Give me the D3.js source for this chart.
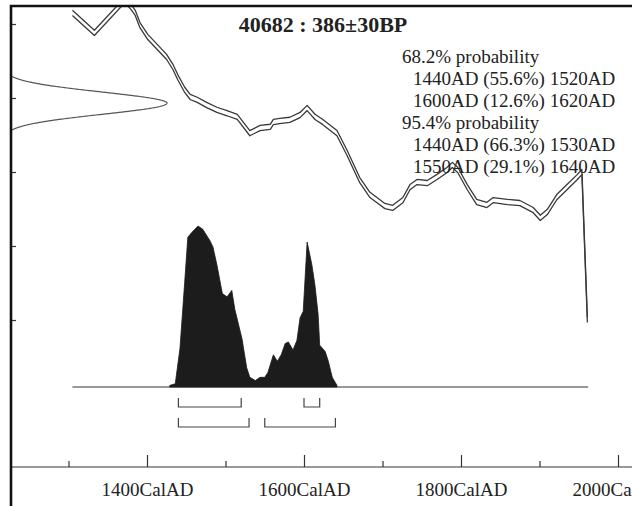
<!DOCTYPE html>
<html>
<head>
<meta charset="UTF-8" />
<title>40682 : 386±30BP</title>
<script src="https://d3js.org/d3.v7.min.js"></script>
<style>
  body { margin: 0; background: #fff; }
  svg { display: block; font-family: "Liberation Serif", "Times New Roman", serif; }
</style>
</head>
<body>
<svg id="chart" width="632" height="506"></svg>
<script>
// ---- data ----
const titleText = '40682 : 386±30BP';
const measBP = 386, measSd = 30;

// calibration curve (cal AD, 14C BP)
const calYears = [1305, 1333, 1372, 1380, 1385, 1391, 1401, 1413, 1425, 1433, 1439, 1448, 1455, 1464, 1476, 1489, 1502, 1515,
  1531, 1544, 1557, 1561, 1569, 1582, 1595, 1604, 1614, 1624, 1642, 1655, 1671, 1684, 1693, 1703, 1713, 1726, 1735, 1744,
  1757, 1769, 1782, 1789, 1796, 1808, 1820, 1833, 1841, 1859, 1875, 1892, 1901, 1910, 1922, 1935, 1948, 1954, 1961];
const calBP = [630, 576, 665, 645, 630, 597, 565, 538, 511, 484, 457, 422, 403, 395, 381, 368, 359, 349,
  305, 319, 322, 335, 338, 341, 354, 373, 349, 335, 305, 251, 178, 138, 124, 108, 103, 124, 159, 173,
  170, 186, 205, 219, 205, 159, 119, 111, 124, 119, 116, 97, 76, 92, 132, 159, 186, 200, -200];
const curveSd = 7;

// calibrated probability (relative)
const distYears = [1429, 1436, 1442, 1448, 1452, 1457, 1465, 1471, 1480, 1484, 1489, 1496, 1502, 1508, 1512, 1521, 1527, 1531,
  1538, 1544, 1550, 1554, 1561, 1566, 1571, 1576, 1580, 1586, 1591, 1595, 1599, 1604, 1610, 1614, 1618, 1620, 1627, 1631, 1636, 1642];
const distProb = [0.01, 0.02, 0.24, 0.65, 0.93, 0.96, 1.0, 0.98, 0.91, 0.87, 0.76, 0.58, 0.56, 0.60, 0.48, 0.30, 0.12, 0.06,
  0.04, 0.06, 0.06, 0.09, 0.20, 0.16, 0.20, 0.27, 0.28, 0.23, 0.29, 0.43, 0.47, 0.90, 0.76, 0.63, 0.45, 0.26, 0.22, 0.16, 0.06, 0.01];
const distRange = [1305, 1962];

const ranges68 = [[1440, 1520], [1600, 1620]];
const ranges95 = [[1440, 1530], [1550, 1640]];

const probLines = ['68.2% probability', '1440AD (55.6%) 1520AD', '1600AD (12.6%) 1620AD',
  '95.4% probability', '1440AD (66.3%) 1530AD', '1550AD (29.1%) 1640AD'];

const xMajor = [1400, 1600, 1800, 2000];
const xMinor = [1300, 1500, 1700, 1900];
const yTicks = [600, 400, 200, 0, -200];

// ---- scales ----
const svg = d3.select('#chart');
const x = d3.scaleLinear().domain([1400, 1600]).range([147, 304]);
const y = d3.scaleLinear().domain([400, 200]).range([98, 172]);
const p = d3.scaleLinear().domain([0, 1]).range([387, 226]);
const g = d3.scaleLinear().domain([0, 1]).range([3, 167]);  // gaussian width

const frameL = 12, frameT = 7, axisY = 467;

svg.append('rect').attr('width', 632).attr('height', 506).attr('fill', '#fff');
svg.append('clipPath').attr('id', 'clip')
  .append('rect').attr('x', frameL).attr('y', frameT).attr('width', 632 - frameL).attr('height', 506 - frameT);

const plot = svg.append('g').attr('clip-path', 'url(#clip)');

// gaussian of the measurement
const gPts = d3.range(measBP - 4 * measSd, measBP + 4 * measSd + 0.1, 1)
  .map(b => [b, Math.exp(-0.5 * Math.pow((b - measBP) / measSd, 2))]);
plot.append('path').datum(gPts)
  .attr('fill', 'none').attr('stroke', '#555').attr('stroke-width', 1.2)
  .attr('d', d3.line().x(d => g(d[1])).y(d => y(d[0])));

// calibration curve, drawn as two lines (+/- sd)
const calData = calYears.map((yr, i) => ({ yr, bp: calBP[i] }));
[1, -1].forEach(s => {
  plot.append('path').datum(calData)
    .attr('fill', 'none').attr('stroke', '#3a3a3a').attr('stroke-width', 1.3)
    .attr('stroke-linejoin', 'round')
    .attr('d', d3.line().x(d => x(d.yr)).y(d => y(d.bp + s * curveSd)));
});

// calibrated distribution
const distData = distYears.map((yr, i) => ({ yr, v: distProb[i] }));
plot.append('line')
  .attr('x1', x(distRange[0])).attr('x2', x(distRange[1]))
  .attr('y1', p(0)).attr('y2', p(0))
  .attr('stroke', '#333').attr('stroke-width', 1.2);
plot.append('path').datum(distData)
  .attr('fill', '#1c1c1c').attr('stroke', '#1c1c1c').attr('stroke-width', 0.8)
  .attr('d', d3.area().x(d => x(d.yr)).y0(p(0)).y1(d => p(d.v)));

// range brackets
function brackets(ranges, yy) {
  ranges.forEach(r => {
    plot.append('path')
      .attr('fill', 'none').attr('stroke', '#444').attr('stroke-width', 1.2)
      .attr('d', `M${x(r[0])},${yy - 9}V${yy}H${x(r[1])}V${yy - 9}`);
  });
}
brackets(ranges68, 407);
brackets(ranges95, 427);

// x axis
svg.append('line').attr('x1', frameL).attr('x2', 632).attr('y1', axisY).attr('y2', axisY)
  .attr('stroke', '#333').attr('stroke-width', 1.2);
const major = svg.append('g').attr('transform', `translate(0,${axisY})`)
  .call(d3.axisTop(x).tickValues(xMajor).tickSize(12).tickFormat(''));
const minor = svg.append('g').attr('transform', `translate(0,${axisY})`)
  .call(d3.axisTop(x).tickValues(xMinor).tickSize(6).tickFormat(''));
const labels = svg.append('g').attr('transform', `translate(0,${axisY})`)
  .call(d3.axisBottom(x).tickValues(xMajor).tickSize(0).tickPadding(16).tickFormat(d => d + 'CalAD'));
[major, minor, labels].forEach(a => {
  a.select('.domain').remove();
  a.selectAll('line').attr('stroke', '#333').attr('stroke-width', 1.2);
});
labels.selectAll('text').attr('font-family', '"Liberation Serif", serif')
  .attr('font-size', 19).attr('fill', '#222');

// y axis ticks (no labels)
const yAxis = svg.append('g').attr('transform', `translate(${frameL},0)`)
  .call(d3.axisRight(y).tickValues(yTicks).tickSize(4).tickFormat(''));
yAxis.select('.domain').remove();
yAxis.selectAll('line').attr('stroke', '#333').attr('stroke-width', 1.2);

// frame (left and top)
svg.append('path').attr('fill', 'none').attr('stroke', '#111').attr('stroke-width', 2.6)
  .attr('d', `M${frameL - 1},506V${frameT - 1}H632`);

// title
svg.append('text').attr('x', 323).attr('y', 32).attr('text-anchor', 'middle')
  .attr('font-size', 22).attr('font-weight', 'bold').attr('fill', '#222')
  .text(titleText);

// probability text
svg.append('g').selectAll('text').data(probLines).join('text')
  .attr('x', (d, i) => i % 3 === 0 ? 402 : 413)
  .attr('y', (d, i) => 63 + i * 21.9)
  .attr('font-size', 19).attr('fill', '#222')
  .text(d => d);
</script>
</body>
</html>
